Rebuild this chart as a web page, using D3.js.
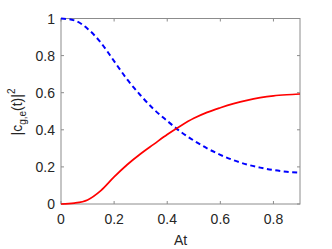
<!DOCTYPE html>
<html><head><meta charset="utf-8">
<script src="https://cdn.jsdelivr.net/npm/d3@7"></script>
<style>body{margin:0;background:#fff}svg{display:block}</style>
</head><body><svg id="c" width="332" height="249"></svg>
<script>
const xTicks = [0, 0.2, 0.4, 0.6, 0.8];
const yTicks = [0, 0.2, 0.4, 0.6, 0.8, 1];
const xs = [0, 0.05, 0.1, 0.15, 0.2, 0.25, 0.3, 0.35, 0.4, 0.45, 0.5, 0.55, 0.6, 0.65, 0.7, 0.75, 0.8, 0.85, 0.9];
const excited = [0, 0.005, 0.022, 0.072, 0.146, 0.213, 0.271, 0.323, 0.375, 0.421, 0.462, 0.494, 0.519, 0.541, 0.559, 0.573, 0.583, 0.589, 0.593];
const ground = [1, 0.99, 0.945, 0.87, 0.77, 0.67, 0.585, 0.51, 0.448, 0.39, 0.342, 0.3, 0.265, 0.236, 0.213, 0.196, 0.183, 0.174, 0.169];

const svg = d3.select("#c");
const x = d3.scaleLinear().domain([0, 0.9]).range([61, 300]);
const y = d3.scaleLinear().domain([0, 1]).range([204, 18.5]);
const font = "Liberation Sans, Arial, sans-serif";
const axisCol = "#8c8c8c", textCol = "#262626";

svg.append("rect").attr("x", x(0)).attr("y", y(1)).attr("width", x(0.9)-x(0)).attr("height", y(0)-y(1))
  .attr("fill", "none").attr("stroke", axisCol).attr("stroke-width", 1);

xTicks.forEach(t => {
  svg.append("line").attr("x1", x(t)).attr("x2", x(t)).attr("y1", y(0)).attr("y2", y(0)-3).attr("stroke", axisCol);
  svg.append("line").attr("x1", x(t)).attr("x2", x(t)).attr("y1", y(1)).attr("y2", y(1)+3).attr("stroke", axisCol);
  svg.append("text").attr("x", x(t)).attr("y", 224).attr("text-anchor", "middle")
    .attr("font-family", font).attr("font-size", 14).attr("fill", textCol).text(d3.format("")(t));
});
yTicks.forEach(t => {
  svg.append("line").attr("x1", x(0)).attr("x2", x(0)+3).attr("y1", y(t)).attr("y2", y(t)).attr("stroke", axisCol);
  svg.append("line").attr("x1", x(0.9)).attr("x2", x(0.9)-3).attr("y1", y(t)).attr("y2", y(t)).attr("stroke", axisCol);
  svg.append("text").attr("x", 55).attr("y", y(t)+5).attr("text-anchor", "end")
    .attr("font-family", font).attr("font-size", 14).attr("fill", textCol).text(d3.format("")(t));
});

const line = d3.line().x(d => x(d[0])).y(d => y(d[1])).curve(d3.curveMonotoneX);
svg.append("path").datum(xs.map((v,i)=>[v, ground[i]])).attr("d", line)
  .attr("fill", "none").attr("stroke", "#0000ff").attr("stroke-width", 2).attr("stroke-dasharray", "5,3.5");
svg.append("path").datum(xs.map((v,i)=>[v, excited[i]])).attr("d", line)
  .attr("fill", "none").attr("stroke", "#ff0000").attr("stroke-width", 1.7);

svg.append("text").attr("x", x(0.45)).attr("y", 245).attr("text-anchor", "middle")
  .attr("font-family", font).attr("font-size", 14).attr("fill", textCol).text("At");

const yl = svg.append("text").attr("transform", "translate(22,112) rotate(-90)").attr("text-anchor", "middle")
  .attr("font-family", font).attr("font-size", 14).attr("fill", textCol);
yl.append("tspan").text("|c");
yl.append("tspan").attr("font-size", 10).attr("dy", 4).text("g,e");
yl.append("tspan").attr("dy", -4).text("(t)|");
yl.append("tspan").attr("font-size", 10).attr("dy", -7).text("2");
</script></body></html>
